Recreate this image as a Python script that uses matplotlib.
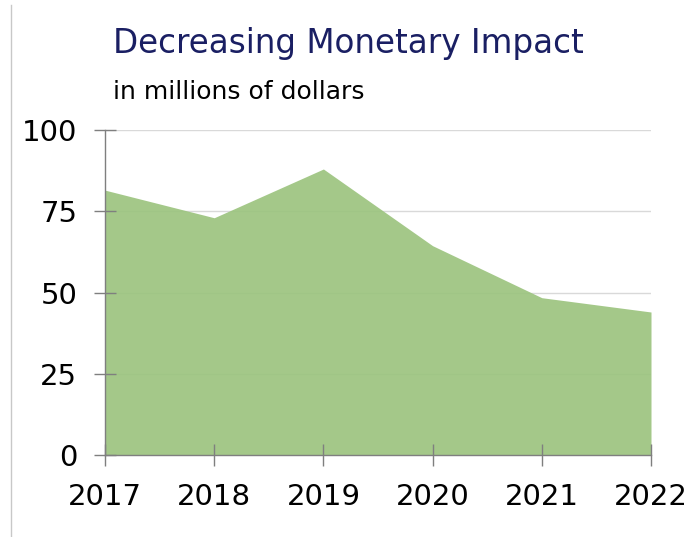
import matplotlib
matplotlib.use("Agg")
import matplotlib.pyplot as plt
from matplotlib.lines import Line2D

years = [2017, 2018, 2019, 2020, 2021, 2022]
impact = [81.5, 73.0, 88.0, 64.4, 48.4, 44.0]
y_ticks = [0, 25, 50, 75, 100]

title = "Decreasing Monetary Impact"
subtitle = "in millions of dollars"

plt.rcParams["font.family"] = ["DejaVu Sans"]

fig = plt.figure(figsize=(6.94, 5.37), dpi=100)
ax = fig.add_axes([105 / 694, 1 - 455 / 537, (651 - 105) / 694, (455 - 130) / 537])

# horizontal gridlines sit underneath the translucent area
for v in y_ticks[1:]:
    ax.axhline(v, color="#d9d9d9", linewidth=1.0, zorder=1)

ax.fill_between(years, impact, 0, color="#9cc47f", alpha=0.92, linewidth=0, zorder=2)

ax.set_xlim(years[0], years[-1])
ax.set_ylim(0, 100)
ax.set_xticks(years)
ax.set_yticks(y_ticks)
ax.set_xticklabels([str(y) for y in years])
ax.set_yticklabels([str(v) for v in y_ticks])
ax.set_axisbelow(False)

for side in ("top", "right"):
    ax.spines[side].set_visible(False)
for side in ("left", "bottom"):
    ax.spines[side].set_color("#7f7f7f")
    ax.spines[side].set_linewidth(1.0)
    ax.spines[side].set_zorder(3)

ax.tick_params(axis="both", direction="inout", length=16, width=1.0,
               color="#7f7f7f", labelsize=21, labelcolor="#000000")
ax.tick_params(axis="y", pad=12)
ax.tick_params(axis="x", pad=12)

fig.text(113 / 694, 1 - 53 / 537, title, color="#1a1f63", fontsize=23.5,
         ha="left", va="baseline")
fig.text(113 / 694, 1 - 99 / 537, subtitle, color="#000000", fontsize=18,
         ha="left", va="baseline")

# thin frame rule at the left edge
fig.add_artist(Line2D([11 / 694, 11 / 694], [0, 1 - 5 / 537],
                      transform=fig.transFigure, color="#c8c8c8", linewidth=1.0))

fig.savefig("out.png", dpi=100)
